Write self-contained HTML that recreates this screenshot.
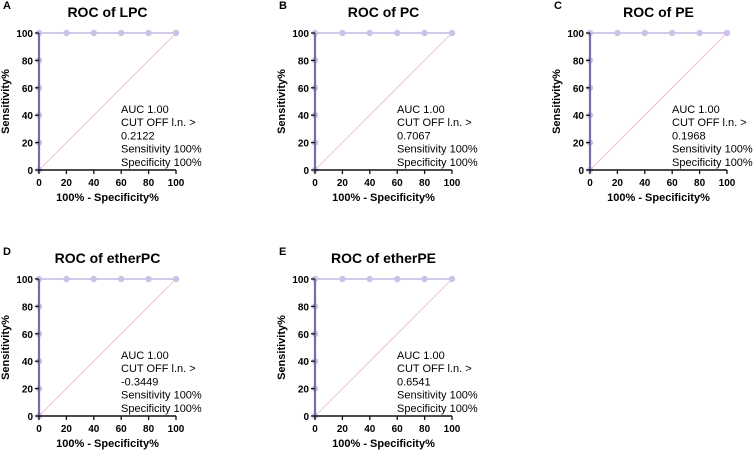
<!DOCTYPE html>
<html><head><meta charset="utf-8"><style>
html,body{margin:0;padding:0;background:#fff;width:755px;height:454px;overflow:hidden}
svg{font-family:"Liberation Sans",Arial,sans-serif}
</style></head><body>
<svg id="chart" width="755" height="454" viewBox="0 0 755 454"></svg>
<script>
const panelLetters = ["A","B","C","D","E"];
const panelTitles = ["ROC of LPC","ROC of PC","ROC of PE","ROC of etherPC","ROC of etherPE"];
const cutoffs = ["0.2122","0.7067","0.1968","-0.3449","0.6541"];
const aucValues = ["1.00","1.00","1.00","1.00","1.00"];
const fprValues = [0,0,0,0,0,0,20,40,60,80,100];
const tprValues = [0,20,40,60,80,100,100,100,100,100,100];
const tickValues = [0,20,40,60,80,100];

const origins = [[39,170],[315,170],[590,170],[39,416],[315,416]];
const S = 137/100;
const NS = "http://www.w3.org/2000/svg";
const svg = document.getElementById('chart');
function mk(tag, attrs, parent, text){
  const e = document.createElementNS(NS, tag);
  for (const k in attrs) e.setAttribute(k, attrs[k]);
  if (text !== undefined) e.textContent = text;
  parent.appendChild(e);
  return e;
}
panelTitles.forEach((title, i) => {
  const [ox, oy] = origins[i];
  const xs = v => ox + v*S;
  const ys = v => oy - v*S;
  const g = mk('g', {}, svg);
  
  
  const L = mk('text', {x: ox-36, y: oy-161, 'font-size': 11, 'font-weight': 'bold'}, g, panelLetters[i]);
   
  const T = mk('text', {x: xs(50), y: oy-153, 'font-size': 14, 'font-weight': 'bold', 'text-anchor': 'middle'}, g, title);
   
  // diagonal
  const d = mk('line', {x1: xs(0), y1: ys(0), x2: xs(100), y2: ys(100), stroke: '#e8b4c0', 'stroke-width': 0.8}, g);
   
  // roc line
  const pts = fprValues.map((f, k) => xs(f) + ',' + ys(tprValues[k])).join(' ');
  const pl = mk('polyline', {points: pts, fill: 'none', stroke: '#c4b9e4', 'stroke-width': 1.5}, g);
   
  fprValues.forEach((f, k) => {
    const c = mk('circle', {cx: xs(f), cy: ys(tprValues[k]), r: 3.2, fill: '#cbc2e8'}, g);
     
  });
  // axes
  const ya = mk('line', {x1: xs(0), y1: ys(0)+1, x2: xs(0), y2: ys(100), stroke: '#7a6aa6', 'stroke-width': 2.2}, g);
   
  const xa = mk('line', {x1: xs(0)-1, y1: ys(0), x2: xs(100), y2: ys(0), stroke: '#111', 'stroke-width': 1.5}, g);
   
  tickValues.forEach(t => {
    mk('line', {x1: xs(0)-4, y1: ys(t), x2: xs(0), y2: ys(t), stroke: '#111', 'stroke-width': 1.3}, g);
    const yl = mk('text', {x: xs(0)-6, y: ys(t)+4, 'font-size': 10, 'font-weight': 'bold', 'text-anchor': 'end'}, g, t);
     
    mk('line', {x1: xs(t), y1: ys(0), x2: xs(t), y2: ys(0)+4, stroke: '#111', 'stroke-width': 1.3}, g);
    const xl = mk('text', {x: xs(t), y: ys(0)+16, 'font-size': 10, 'font-weight': 'bold', 'text-anchor': 'middle'}, g, t);
     
  });
  const xt = mk('text', {x: xs(50), y: ys(0)+31, 'font-size': 11, 'font-weight': 'bold', 'text-anchor': 'middle'}, g, '100% - Specificity%');
   
  const yt = mk('text', {x: 0, y: 0, 'font-size': 11, 'font-weight': 'bold', 'text-anchor': 'middle', transform: `translate(${ox-30},${ys(50)}) rotate(-90)`}, g, 'Sensitivity%');
   
  const lines = ['AUC ' + aucValues[i], 'CUT OFF l.n. >', cutoffs[i], 'Sensitivity 100%', 'Specificity 100%'];
  const ann = mk('g', {}, g);
   
  lines.forEach((s, k) => mk('text', {x: ox+82, y: oy-57+k*13.2, 'font-size': 11}, ann, s));
});
</script>
</body></html>
